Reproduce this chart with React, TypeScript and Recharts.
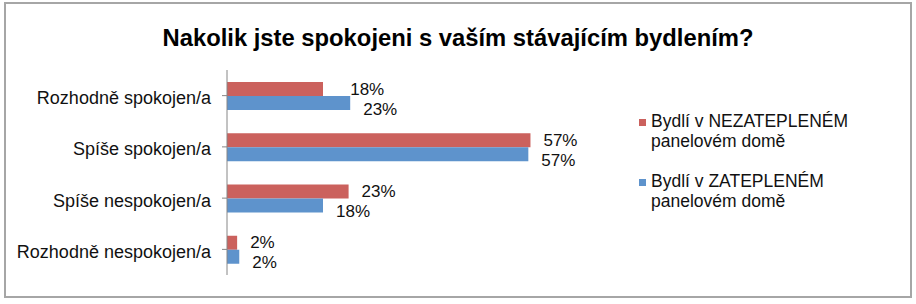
import React from "react"
import { BarChart, Bar, XAxis, YAxis, LabelList } from "recharts"

const categories = [
  "Rozhodně spokojen/a",
  "Spíše spokojen/a",
  "Spíše nespokojen/a",
  "Rozhodně nespokojen/a",
]
const nezateplene = [18, 56.9, 22.8, 1.9]
const zateplene = [23.1, 56.5, 18, 2.3]
const valueLabels1 = ["18%", "57%", "23%", "2%"]
const valueLabels2 = ["23%", "57%", "18%", "2%"]

const seriesNames = [
  "Bydlí v NEZATEPLENÉM panelovém domě",
  "Bydlí v ZATEPLENÉM panelovém domě",
]
const RED = "#cb615d"
const BLUE = "#5e93cc"
const FONT = "'Liberation Sans', Arial, sans-serif"

const data = categories.map((name, i) => ({
  name,
  a: nezateplene[i],
  b: zateplene[i],
}))

// red label is pushed past the blue bar when the blue one is longer
function RedLabel(props: any) {
  const { x, y, width, height, index } = props
  const scale = width / nezateplene[index]
  const other = x + zateplene[index] * scale
  const lx = Math.max(x + width + 13, other)
  return (
    <text x={lx} y={y + height / 2} dominantBaseline="central" fill="#111" style={{ fontSize: 17, fontFamily: FONT }}>
      {valueLabels1[index]}
    </text>
  )
}

function BlueLabel(props: any) {
  const { x, y, width, height, index } = props
  return (
    <text x={x + width + 13} y={y + height / 2 + 6} dominantBaseline="central" fill="#111" style={{ fontSize: 17, fontFamily: FONT }}>
      {valueLabels2[index]}
    </text>
  )
}

function LegendBox() {
  const colors = [RED, BLUE]
  const lines = [
    ["Bydlí v NEZATEPLENÉM", "panelovém domě"],
    ["Bydlí v ZATEPLENÉM", "panelovém domě"],
  ]
  return (
    <div style={{ fontFamily: FONT, fontSize: 17.5, color: "#111" }}>
      {seriesNames.map((s, i) => (
        <div key={s} title={s} style={{ display: "flex", alignItems: "flex-start", marginBottom: i === 0 ? 20 : 0 }}>
          <span style={{ display: "inline-block", width: 7, height: 7, background: colors[i], marginTop: 8, marginRight: 5, flexShrink: 0 }} />
          <div style={{ lineHeight: "20px" }}>
            <div>{lines[i][0]}</div>
            <div>{lines[i][1]}</div>
          </div>
        </div>
      ))}
    </div>
  )
}

export default function App() {
  return (
    <div style={{ position: "absolute", left: 0, top: 0, width: 916, height: 304, background: "#fff" }}>
      <div style={{ position: "absolute", left: 4, top: 2, width: 904, height: 292, border: "2px solid #a6a6a6" }} />
      <svg width={916} height={60} style={{ position: "absolute", left: 0, top: 0 }}>
        <text x={458} y={46} textAnchor="middle" textLength={591} lengthAdjust="spacingAndGlyphs"
          style={{ fontSize: 23, fontWeight: 700, fontFamily: FONT }} fill="#000">
          Nakolik jste spokojeni s vaším stávajícím bydlením?
        </text>
      </svg>
      <div style={{ position: "absolute", left: 0, top: 0 }}>
        <BarChart
          layout="vertical"
          width={916}
          height={304}
          data={data}
          margin={{ top: 70, right: 369, bottom: 29, left: 0 }}
          barGap={0}
        >
          <XAxis type="number" domain={[0, 60]} hide />
          <YAxis
            type="category"
            dataKey="name"
            width={227}
            axisLine={{ stroke: "#868686" }}
            tickLine={{ stroke: "#868686" }}
            tickSize={5}
            tickMargin={11}
            tick={{ fill: "#111", fontSize: 18, fontFamily: FONT, dy: 2 }}
            interval={0}
          />
          <Bar dataKey="a" name={seriesNames[0]} fill={RED} barSize={14} isAnimationActive={false}>
            <LabelList dataKey="a" content={<RedLabel />} />
          </Bar>
          <Bar dataKey="b" name={seriesNames[1]} fill={BLUE} barSize={14} isAnimationActive={false}>
            <LabelList dataKey="b" content={<BlueLabel />} />
          </Bar>
        </BarChart>
      </div>
      <div style={{ position: "absolute", left: 639, top: 111 }}>
        <LegendBox />
      </div>
    </div>
  )
}
